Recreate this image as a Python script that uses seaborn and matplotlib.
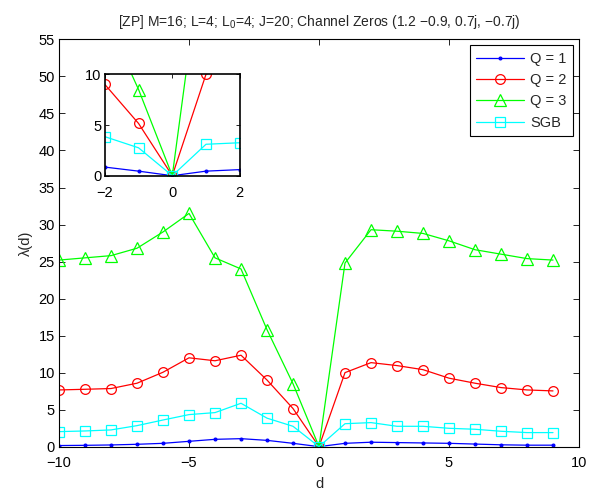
import numpy as np
import pandas as pd
import matplotlib
matplotlib.use("Agg")
import matplotlib.pyplot as plt
import seaborn as sns

# Lag axis
d = list(range(-10, 10))

# Eigenvalue profiles per configuration
q1 = [0.15, 0.18, 0.23, 0.32, 0.45, 0.72, 0.99, 1.08, 0.85, 0.45, 0.0,
      0.45, 0.6, 0.55, 0.5, 0.45, 0.35, 0.25, 0.2, 0.2]
q2 = [7.66, 7.75, 7.85, 8.57, 10.05, 12.0, 11.6, 12.35, 9.0, 5.15, 0.0,
      10.0, 11.35, 10.95, 10.4, 9.25, 8.57, 7.98, 7.66, 7.53]
q3 = [25.2, 25.5, 25.8, 26.8, 29.0, 31.5, 25.5, 24.0, 15.8, 8.5, 0.0,
      24.8, 29.3, 29.1, 28.8, 27.8, 26.6, 26.0, 25.4, 25.2]
sgb = [2.03, 2.12, 2.26, 2.84, 3.6, 4.33, 4.6, 5.86, 3.85, 2.75, 0.0,
       3.1, 3.25, 2.75, 2.75, 2.48, 2.35, 2.08, 1.9, 1.9]

labels = ["Q = 1", "Q = 2", "Q = 3", "SGB"]
colors = ["#0000ff", "#ff0000", "#00ff00", "#00ffff"]
markers = [".", "o", "^", "s"]
msizes = [4, 7, 8, 6.5]
series = [q1, q2, q3, sgb]

title = "[ZP] M=16; L=4; L$_0$=4; J=20; Channel Zeros (1.2 \u22120.9, 0.7j, \u22120.7j)"

sns.set_style("ticks")
plt.rcParams["font.family"] = ["Liberation Sans", "DejaVu Sans"]
plt.rcParams["mathtext.fontset"] = "custom"
plt.rcParams["mathtext.rm"] = "Liberation Sans"
plt.rcParams["mathtext.it"] = "Liberation Sans:italic"
plt.rcParams["xtick.direction"] = "in"
plt.rcParams["ytick.direction"] = "in"
plt.rcParams["axes.edgecolor"] = "black"
plt.rcParams["axes.linewidth"] = 0.8

fig = plt.figure(figsize=(5.89, 4.93), dpi=100)
ax = fig.add_axes([0.1002, 0.094, 0.8828, 0.826])
ins = fig.add_axes([0.178, 0.6436, 0.229, 0.2057])


def draw(axis, with_labels):
    for y, lab, c, m, ms in zip(series, labels, colors, markers, msizes):
        df = pd.DataFrame({"d": d, "val": y})
        face = c if m == "." else "none"
        sns.lineplot(data=df, x="d", y="val", ax=axis, color=c, lw=0.9,
                     marker=m, markersize=ms, markerfacecolor=face,
                     markeredgecolor=c, markeredgewidth=0.9,
                     label=lab if with_labels else None, legend=False)


draw(ax, True)
draw(ins, False)

ax.set_xlim(-10, 10)
ax.set_ylim(0, 55)
ax.set_xticks(range(-10, 11, 5))
ax.set_yticks(range(0, 56, 5))
ax.tick_params(which="both", top=True, right=True, labelsize=10.5, length=4,
               width=0.6, colors="black", pad=3)
ax.tick_params(axis="x", pad=6.5)
ax.set_xlabel("d", fontsize=10.5, labelpad=5)
ax.set_ylabel("\u03bb(d)", fontsize=10.5, labelpad=4)
ax.set_title(title, fontsize=10, pad=10)
for s in ax.spines.values():
    s.set_visible(True)

leg = ax.legend(loc="upper right", fontsize=10.5, frameon=True, fancybox=False,
                edgecolor="black", framealpha=1, borderaxespad=0.4,
                handlelength=3.3, handletextpad=0.4, labelspacing=0.5,
                borderpad=0.45)
leg.get_frame().set_linewidth(0.8)

ins.set_xlim(-2, 2)
ins.set_ylim(0, 10)
ins.set_xticks([-2, 0, 2])
ins.set_yticks([0, 5, 10])
ins.set_xlabel("")
ins.set_ylabel("")
ins.tick_params(which="both", top=True, right=True, labelsize=10.5, length=3,
                width=0.6, colors="black", pad=2.5)
ins.tick_params(axis="x", pad=7.5)
for s in ins.spines.values():
    s.set_visible(True)
    s.set_linewidth(1.2)

fig.savefig("out.png", dpi=100)
